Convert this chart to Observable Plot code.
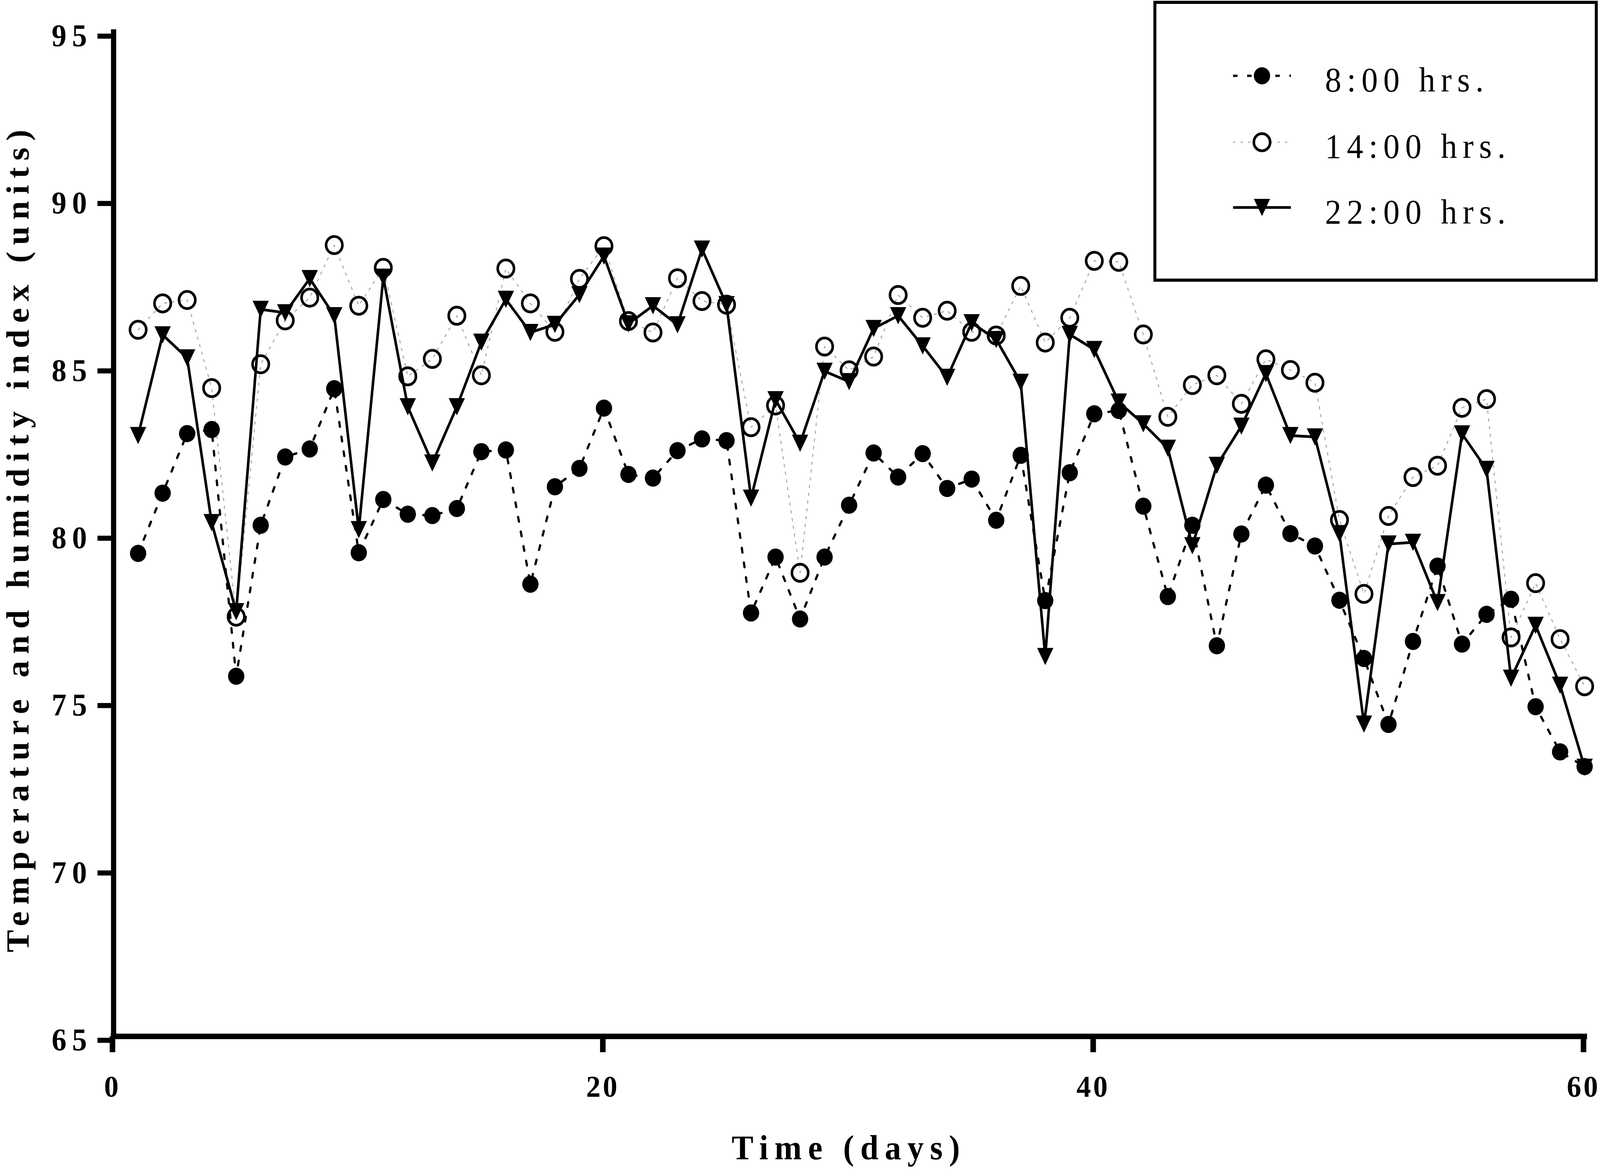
<!DOCTYPE html>
<html>
<head>
<meta charset="utf-8">
<script src="https://cdn.jsdelivr.net/npm/d3@7"></script>
<script src="https://cdn.jsdelivr.net/npm/@observablehq/plot@0.6"></script>
<style>
  html, body { margin: 0; padding: 0; background: #fff; overflow: hidden; }
  #chart { position: relative; }
  #chart svg { display: block; max-width: none; }
</style>
</head>
<body>
<div id="chart"></div>
<script>
// ---------- data ----------
const days = [1,2,3,4,5,6,7,8,9,10,11,12,13,14,15,16,17,18,19,20,21,22,23,24,25,26,27,28,29,30,
              31,32,33,34,35,36,37,38,39,40,41,42,43,44,45,46,47,48,49,50,51,52,53,54,55,56,57,58,59,60];

const t08 = [79.43,81.23,83.01,83.13,75.76,80.27,82.31,82.55,84.35,79.45,
             81.04,80.60,80.56,80.77,82.47,82.52,78.51,81.42,81.97,83.77,
             81.79,81.68,82.50,82.85,82.80,77.65,79.32,77.47,79.32,80.87,
             82.43,81.71,82.41,81.37,81.65,80.42,82.36,78.02,81.84,83.60,
             83.70,80.84,78.14,80.27,76.67,80.01,81.47,80.02,79.65,78.03,
             76.29,74.32,76.80,79.05,76.72,77.61,78.06,74.85,73.50,73.06];

const t14 = [86.11,86.90,87.00,84.37,77.54,85.08,86.39,87.07,88.64,86.83,
             87.96,84.72,85.24,86.53,84.75,87.94,86.90,86.05,87.63,88.61,
             86.37,86.03,87.65,86.97,86.86,83.20,83.85,78.85,85.61,84.90,
             85.31,87.15,86.47,86.68,86.05,85.94,87.42,85.73,86.47,88.17,
             88.14,85.97,83.51,84.46,84.75,83.90,85.23,84.91,84.53,80.43,
             78.22,80.55,81.71,82.05,83.78,84.04,76.92,78.54,76.87,75.46];

const t22 = [82.95,85.96,85.27,80.35,77.69,86.72,86.62,87.64,86.53,80.14,
             87.68,83.81,82.13,83.81,85.74,87.02,86.03,86.27,87.16,88.31,
             86.29,86.83,86.26,88.52,86.86,81.08,84.02,82.72,84.87,84.56,
             86.15,86.53,85.63,84.69,86.32,85.82,84.54,76.35,85.97,85.52,
             83.95,83.30,82.57,79.66,82.06,83.23,84.80,82.95,82.91,80.02,
             74.33,79.71,79.76,77.96,83.00,81.94,75.70,77.28,75.49,73.04];

const seriesNames = ["8:00 hrs.", "14:00 hrs.", "22:00 hrs."];
const xTicks = [0, 20, 40, 60];
const yTicks = [65, 70, 75, 80, 85, 90, 95];
const xDomain = [0, 60];
const yDomain = [65, 95];
const xLabel = "Time (days)";
const yLabel = "Temperature and humidity index (units)";

// ---------- build ----------
const toRows = vals => days.map((d, i) => ({ day: d, value: vals[i] }));
const d08 = toRows(t08), d14 = toRows(t14), d22 = toRows(t22);

const triDown = {
  draw(ctx, size) {
    const r = Math.sqrt(size / Math.PI);
    ctx.moveTo(-r, -r);
    ctx.lineTo(r, -r);
    ctx.lineTo(0, r);
    ctx.closePath();
  }
};

const W = 4317, H = 2997;
const mL = 306, mR = 42, mT = 82, mB = 345;
const FONT = "'Liberation Serif', 'Times New Roman', serif";

const st = {
  s08: { stroke: "#000", strokeWidth: 6, dash: "12,26" },
  s14: { stroke: "#a0a0a0", strokeWidth: 2.5, dash: "6,14" },
  s22: { stroke: "#000", strokeWidth: 7, dash: null }
};

const plot = Plot.plot({
  width: W, height: H,
  marginLeft: mL, marginRight: mR, marginTop: mT, marginBottom: mB,
  style: { fontFamily: FONT, background: "#fff", color: "#000" },
  x: { domain: xDomain },
  y: { domain: yDomain },
  marks: [
    Plot.axisX({ ticks: xTicks, tickSize: 41, tickPadding: 58, strokeWidth: 15, dx: -3,
                 fontSize: 78, fontWeight: "bold", label: null, tickFormat: d => String(d) }),
    Plot.axisY({ ticks: yTicks, tickSize: 43, tickPadding: 14, strokeWidth: 13,
                 fontSize: 80, fontWeight: "bold", label: null, dy: 10, tickFormat: d => String(d) }),
    Plot.ruleX([xDomain[0]], { stroke: "#000", strokeWidth: 14, strokeLinecap: "square" }),
    Plot.ruleY([yDomain[0]], { stroke: "#000", strokeWidth: 14, strokeLinecap: "square" }),
    Plot.line(d14, { x: "day", y: "value", stroke: st.s14.stroke, strokeWidth: st.s14.strokeWidth, strokeDasharray: st.s14.dash }),
    Plot.line(d08, { x: "day", y: "value", stroke: st.s08.stroke, strokeWidth: st.s08.strokeWidth, strokeDasharray: st.s08.dash }),
    Plot.line(d22, { x: "day", y: "value", stroke: st.s22.stroke, strokeWidth: st.s22.strokeWidth }),
    Plot.dot(d08, { x: "day", y: "value", r: 22, fill: "#000", stroke: "none" }),
    Plot.dot(d14, { x: "day", y: "value", r: 22, fill: "none", stroke: "#000", strokeWidth: 7 }),
    Plot.dot(d22, { x: "day", y: "value", r: 22, symbol: triDown, fill: "#000", stroke: "none" })
  ]
});
plot.style.letterSpacing = "15px";

// fit the 4317x2997 drawing to the actual viewport
const vw = window.innerWidth || W, vh = window.innerHeight || H;
plot.setAttribute("viewBox", `0 0 ${W} ${H}`);
plot.setAttribute("preserveAspectRatio", "none");
plot.setAttribute("width", vw);
plot.setAttribute("height", vh);
plot.style.width = vw + "px";
plot.style.height = vh + "px";
plot.style.maxWidth = "none";
document.getElementById("chart").appendChild(plot);

const svg = d3.select(plot);
svg.selectAll('[aria-label="x-axis tick label"] text').style("letter-spacing", "6px");

// axis titles
svg.append("text")
  .attr("x", (mL + W - mR) / 2).attr("y", 2967)
  .attr("text-anchor", "middle")
  .attr("font-family", FONT).attr("font-size", 88).attr("font-weight", "bold")
  .style("letter-spacing", "17px").attr("fill", "#000")
  .text(xLabel);

svg.append("text")
  .attr("transform", "translate(77,1376) rotate(-90)")
  .attr("text-anchor", "middle")
  .attr("font-family", FONT).attr("font-size", 86).attr("font-weight", "bold")
  .style("letter-spacing", "17px").attr("fill", "#000")
  .text(yLabel);

// legend
const lg = svg.append("g");
lg.append("rect")
  .attr("x", 3116).attr("y", 6).attr("width", 4307 - 3116).attr("height", 717 - 6)
  .attr("fill", "#fff").attr("stroke", "#000").attr("stroke-width", 8);

const legendRows = [
  { name: seriesNames[0], s: st.s08, marker: "filled", cy: 194, base: 234 },
  { name: seriesNames[1], s: st.s14, marker: "open", cy: 364, base: 404 },
  { name: seriesNames[2], s: st.s22, marker: "tri", cy: 531, base: 572 }
];
legendRows.forEach(row => {
  const ln = lg.append("line")
    .attr("x1", 3327).attr("x2", 3483).attr("y1", row.cy).attr("y2", row.cy)
    .attr("stroke", row.s.stroke).attr("stroke-width", row.s.strokeWidth);
  if (row.s.dash) ln.attr("stroke-dasharray", row.s.dash);
  if (row.marker === "filled") {
    lg.append("circle").attr("cx", 3405).attr("cy", row.cy).attr("r", 22).attr("fill", "#000");
  } else if (row.marker === "open") {
    lg.append("circle").attr("cx", 3405).attr("cy", row.cy).attr("r", 22)
      .attr("fill", "#fff").attr("stroke", "#000").attr("stroke-width", 7);
  } else {
    const p = d3.path();
    triDown.draw(p, 22 * 22 * Math.PI);
    lg.append("path").attr("d", p.toString())
      .attr("transform", `translate(3405,${row.cy})`).attr("fill", "#000");
  }
  lg.append("text")
    .attr("x", 3575).attr("y", row.base)
    .attr("text-anchor", "start")
    .attr("font-family", FONT).attr("font-size", 88).attr("font-weight", "normal")
    .style("letter-spacing", "15px").attr("fill", "#000")
    .text(row.name);
});
</script>
</body>
</html>
